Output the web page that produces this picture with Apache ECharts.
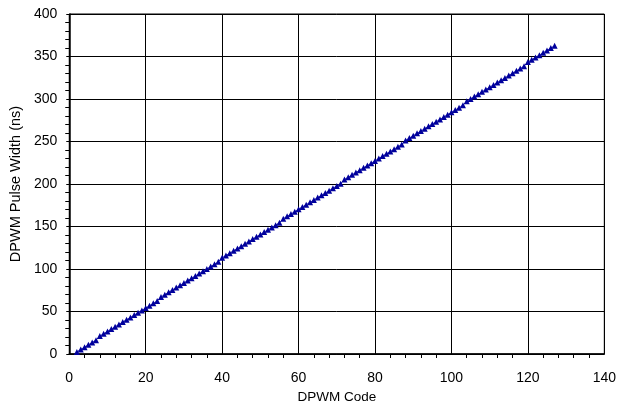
<!DOCTYPE html>
<html>
<head>
<meta charset="utf-8">
<script src="https://cdn.jsdelivr.net/npm/echarts@6/dist/echarts.min.js"></script>
<style>
  html, body { margin: 0; padding: 0; background: #fff; }
  #chart { width: 619px; height: 415px; }
</style>
</head>
<body>
<div id="chart"></div>
<script>
    const codes = [
        2, 3, 4, 5, 6, 7, 8, 9, 10, 11, 12, 13, 14, 15, 16, 17, 18, 19, 20, 21,
        22, 23, 24, 25, 26, 27, 28, 29, 30, 31, 32, 33, 34, 35, 36, 37, 38, 39, 40, 41,
        42, 43, 44, 45, 46, 47, 48, 49, 50, 51, 52, 53, 54, 55, 56, 57, 58, 59, 60, 61,
        62, 63, 64, 65, 66, 67, 68, 69, 70, 71, 72, 73, 74, 75, 76, 77, 78, 79, 80, 81,
        82, 83, 84, 85, 86, 87, 88, 89, 90, 91, 92, 93, 94, 95, 96, 97, 98, 99, 100, 101,
        102, 103, 104, 105, 106, 107, 108, 109, 110, 111, 112, 113, 114, 115, 116, 117, 118, 119, 120, 121,
        122, 123, 124, 125, 126, 127
    ];
    const pulseWidth = [
        2.5, 5.3, 8.0, 10.8, 13.5, 16.3, 21.1, 23.8, 26.6, 29.3, 32.0, 34.8, 37.6, 40.3, 43.0, 45.8, 48.6, 51.3, 54.0, 56.8,
        59.6, 62.3, 67.1, 69.8, 72.6, 75.4, 78.1, 80.8, 83.6, 86.4, 89.1, 91.8, 94.6, 97.4, 100.1, 102.8, 105.6, 108.4, 113.2, 115.9,
        118.6, 121.4, 124.2, 126.9, 129.6, 132.4, 135.2, 137.9, 140.6, 143.4, 146.2, 148.9, 151.6, 154.4, 159.2, 162.0, 164.7, 167.4, 170.2, 173.0,
        175.7, 178.4, 181.2, 184.0, 186.7, 189.4, 192.2, 195.0, 197.7, 200.4, 205.3, 208.0, 210.8, 213.5, 216.2, 219.0, 221.8, 224.5, 227.2, 230.0,
        232.8, 235.5, 238.2, 241.0, 243.8, 246.5, 251.3, 254.0, 256.8, 259.6, 262.3, 265.0, 267.8, 270.6, 273.3, 276.0, 278.8, 281.6, 284.3, 287.0,
        289.8, 292.6, 297.4, 300.1, 302.8, 305.6, 308.4, 311.1, 313.8, 316.6, 319.4, 322.1, 324.8, 327.6, 330.4, 333.1, 335.8, 338.6, 343.4, 346.2,
        348.9, 351.6, 354.4, 357.2, 359.9, 362.6
    ];

    const font = "Liberation Sans, Arial, sans-serif";
    const chart = echarts.init(document.getElementById("chart"));
    chart.setOption({
        animation: false,
        grid: {
            left: 69, right: 13, top: 14, bottom: 61,
            show: true, borderColor: "#000", borderWidth: 1
        },
        xAxis: {
            type: "value",
            min: 0, max: 140, interval: 20,
            name: "DPWM Code",
            nameLocation: "middle",
            nameGap: 33,
            nameTextStyle: { color: "#000", fontSize: 13.5, fontFamily: font },
            axisLine: { lineStyle: { color: "#000", width: 1.5 } },
            axisTick: { show: false },
            minorTick: { show: true, splitNumber: 5, length: 4, lineStyle: { color: "#000" } },
            axisLabel: { color: "#000", fontSize: 14, fontFamily: font, margin: 17 },
            splitLine: { show: true, lineStyle: { color: "#000", width: 1 } }
        },
        yAxis: {
            type: "value",
            min: 0, max: 400, interval: 50,
            name: "DPWM Pulse Width (ns)",
            nameLocation: "middle",
            nameGap: 44,
            nameTextStyle: { color: "#000", fontSize: 14.5, fontFamily: font },
            axisLine: { show: true, lineStyle: { color: "#000", width: 1.5 } },
            axisTick: { show: true, inside: false, length: 3, lineStyle: { color: "#000" } },
            minorTick: { show: true, splitNumber: 5, length: 4, lineStyle: { color: "#000" } },
            axisLabel: { color: "#000", fontSize: 14, fontFamily: font, margin: 12 },
            splitLine: { show: true, lineStyle: { color: "#000", width: 1 } }
        },
        series: [{
            type: "line",
            data: codes.map((c, i) => [c, pulseWidth[i]]),
            symbol: "triangle",
            symbolSize: 6,
            itemStyle: { color: "#00009c" },
            lineStyle: { color: "#3030c0", width: 1 }
        }]
    });
</script>
</body>
</html>
